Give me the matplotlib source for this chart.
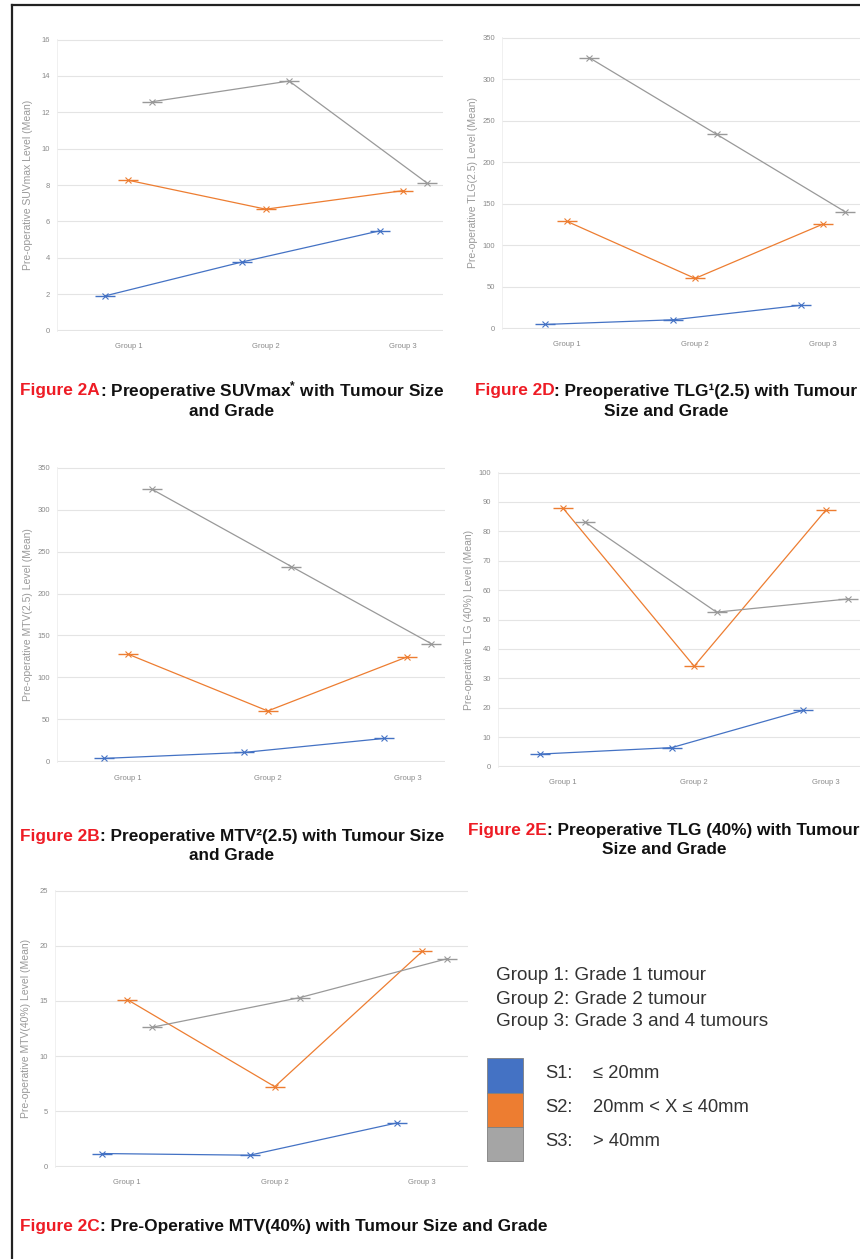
import matplotlib
matplotlib.use("Agg")
import numpy as np
import matplotlib.pyplot as plt
from matplotlib.lines import Line2D
from matplotlib.patches import Rectangle

plt.rcParams["font.family"] = ["Liberation Sans", "DejaVu Sans"]
plt.rcParams["mathtext.default"] = "regular"

W, H = 860, 1259

groups = ["Group 1", "Group 2", "Group 3"]
series_names = ["S1", "S2", "S3"]
series_colors = ["#4472C4", "#ED7D31", "#A5A5A5"]

# Figure 2A: SUVmax
suv_s1 = [1.90, 3.77, 5.48]
suv_s2 = [8.26, 6.67, 7.69]
suv_s3 = [12.58, 13.72, 8.13]

# Figure 2D: TLG(2.5)
tlg25_s1 = [4.8, 10.4, 27.9]
tlg25_s2 = [128.7, 60.2, 125.5]
tlg25_s3 = [326.0, 233.5, 140.7]

# Figure 2B: MTV(2.5)
mtv25_s1 = [3.6, 10.7, 27.3]
mtv25_s2 = [127.7, 60.1, 124.6]
mtv25_s3 = [324.2, 232.1, 140.4]

# Figure 2E: TLG(40%)
tlg40_s1 = [4.2, 6.4, 19.1]
tlg40_s2 = [88.1, 34.1, 87.2]
tlg40_s3 = [83.2, 52.5, 57.0]

# Figure 2C: MTV(40%)
mtv40_s1 = [1.17, 1.02, 3.95]
mtv40_s2 = [15.12, 7.23, 19.49]
mtv40_s3 = [12.62, 15.30, 18.83]

offsets = [-0.17, 0.0, 0.17]

fig = plt.figure(figsize=(W / 100, H / 100), dpi=100)
fig.patch.set_facecolor("white")


def panel(box, xlim, ymax, ystep, ylabel, values):
    x0, y0, x1, y1 = box
    ax = fig.add_axes([x0 / W, 1 - y1 / H, (x1 - x0) / W, (y1 - y0) / H])
    for vals, color, off in zip(values, series_colors, offsets):
        xs = np.arange(len(groups)) + off
        lc = "#999999" if color == "#A5A5A5" else color
        ax.plot(xs, vals, color=lc, lw=0.9, zorder=3)
        ax.plot(xs, vals, ls="none", marker="_", ms=14, mew=1.0, color=lc, zorder=4)
        ax.plot(xs, vals, ls="none", marker="x", ms=4, mew=0.8, color=lc, zorder=4)
    ax.set_xlim(*xlim)
    ax.set_ylim(-ymax * 0.002, ymax * 1.002)
    ax.set_yticks(np.arange(0, ymax + ystep / 2, ystep))
    ax.set_xticks(range(len(groups)))
    ax.set_xticklabels(groups)
    ax.yaxis.grid(True, color="#e4e4e4", lw=0.8)
    ax.set_axisbelow(True)
    for s in ["top", "right", "bottom"]:
        ax.spines[s].set_visible(False)
    ax.spines["left"].set_color("#eeeeee")
    ax.spines["left"].set_linewidth(0.6)
    ax.tick_params(axis="both", length=0, labelsize=5.5, labelcolor="#8a8a8a")
    ax.tick_params(axis="x", pad=9)
    ax.tick_params(axis="y", pad=5)
    ax.set_ylabel(ylabel, fontsize=7.5, color="#9a9a9a")
    ax.yaxis.set_label_coords(-24 / (x1 - x0), 0.5)
    return ax


panel((57, 39, 443, 331), (-0.52, 2.29), 16, 2,
      "Pre-operative SUVmax Level (Mean)", [suv_s1, suv_s2, suv_s3])
panel((502, 37, 860, 329), (-0.51, 2.29), 350, 50,
      "Pre-operative TLG(2.5) Level (Mean)", [tlg25_s1, tlg25_s2, tlg25_s3])
panel((57, 467, 445, 762), (-0.51, 2.27), 350, 50,
      "Pre-operative MTV(2.5) Level (Mean)", [mtv25_s1, mtv25_s2, mtv25_s3])
panel((498, 472, 860, 767), (-0.49, 2.26), 100, 10,
      "Pre-operative TLG (40%) Level (Mean)", [tlg40_s1, tlg40_s2, tlg40_s3])
panel((55, 890, 468, 1167), (-0.49, 2.31), 25, 5,
      "Pre-operative MTV(40%) Level (Mean)", [mtv40_s1, mtv40_s2, mtv40_s3])

# Captions: red figure number followed by bold black description
RED = "#ee1c25"
CAP_FS = 12.4


def caption(xc, y, red, rest, line2=None, y2=None):
    t_red = fig.text(0, 0, red, color=RED, fontsize=CAP_FS, fontweight="bold",
                     va="center", ha="left")
    t_rest = fig.text(0, 0, rest, color="#111111", fontsize=CAP_FS,
                      fontweight="bold", va="center", ha="left")
    fig.canvas.draw()
    r = fig.canvas.get_renderer()
    w_red = t_red.get_window_extent(r).width
    w_rest = t_rest.get_window_extent(r).width
    x_start = xc - (w_red + w_rest) / 2
    t_red.set_position((x_start / W, 1 - y / H))
    t_rest.set_position(((x_start + w_red) / W, 1 - y / H))
    if line2:
        fig.text(xc / W, 1 - y2 / H, line2, color="#111111", fontsize=CAP_FS,
                 fontweight="bold", va="center", ha="center")


caption(232, 391, "Figure 2A", ": Preoperative SUVmax$^{*}$ with Tumour Size",
        "and Grade", 411)
caption(666, 391, "Figure 2D", ": Preoperative TLG\u00b9(2.5) with Tumour",
        "Size and Grade", 411)
caption(232, 836, "Figure 2B", ": Preoperative MTV\u00b2(2.5) with Tumour Size",
        "and Grade", 856)
caption(664, 831, "Figure 2E", ": Preoperative TLG (40%) with Tumour",
        "Size and Grade", 850)
caption(284, 1226, "Figure 2C", ": Pre-Operative MTV(40%) with Tumour Size and Grade")

# Key for groups and size classes
KEY_FS = 13.6
KEY_C = "#333333"
group_notes = ["Group 1: Grade 1 tumour", "Group 2: Grade 2 tumour",
               "Group 3: Grade 3 and 4 tumours"]
for i, note in enumerate(group_notes):
    fig.text(496 / W, 1 - (976 + 23 * i) / H, note, fontsize=KEY_FS,
             color=KEY_C, va="center", ha="left")

size_ranges = ["\u2264 20mm", "20mm < X \u2264 40mm", "> 40mm"]
sw_top = [1058, 1093, 1127]
sw_bot = [1093, 1127, 1161]
for name, rng, color, t, b in zip(series_names, size_ranges, series_colors,
                                  sw_top, sw_bot):
    fig.add_artist(Rectangle((487 / W, 1 - b / H), 36 / W, (b - t) / H,
                             transform=fig.transFigure, facecolor=color,
                             edgecolor="#7f7f7f", lw=0.6))
    yc = 1 - ((t + b) / 2 - 2) / H
    fig.text(545 / W, yc, name + ":", fontsize=13.2, color=KEY_C,
             va="center", ha="left")
    fig.text(593 / W, yc, rng, fontsize=13.2, color=KEY_C,
             va="center", ha="left")

# Page frame
fig.add_artist(Line2D([12 / W, 12 / W], [0, 1 - 5 / H], transform=fig.transFigure,
                      color="#222222", lw=1.6))
fig.add_artist(Line2D([12 / W, 1], [1 - 5 / H, 1 - 5 / H], transform=fig.transFigure,
                      color="#222222", lw=1.6))

fig.savefig("out.png", dpi=100, facecolor="white")
